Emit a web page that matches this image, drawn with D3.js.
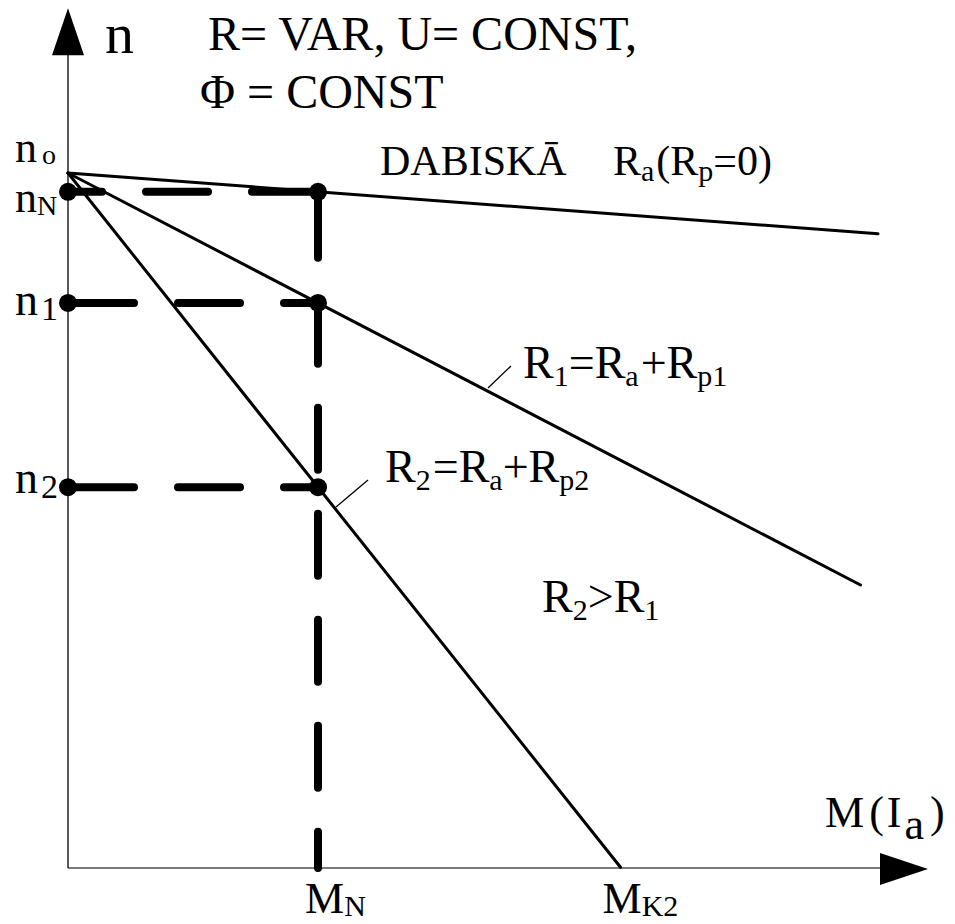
<!DOCTYPE html>
<html>
<head>
<meta charset="utf-8">
<script src="https://cdn.jsdelivr.net/npm/d3@7"></script>
<style>
  body { margin: 0; background: #fff; }
  svg text { font-family: "Liberation Serif", "Times New Roman", Times, "Noto Serif", "DejaVu Serif", FreeSerif, "Nimbus Roman", serif; }
</style>
</head>
<body>
<svg id="chart" width="955" height="924"></svg>
<script>
// Speed-torque characteristics of a DC motor with armature resistance control.
// Torque in units of the rated torque M_N, speed in units of the ideal no-load speed n0.
const characteristics = ["natural", "R1", "R2"];
const speedAtRated   = [0.973, 0.813, 0.548];   // n / n0 at M = M_N
const torqueEnd      = [3.24, 3.17, 2.21];      // where each characteristic is cut off
const idealSpeed     = 1.0;                     // n0
const ratedTorque    = 1.0;                     // M_N
const stallTorqueR2  = 2.21;                    // M_K2 (R2 line reaches n = 0)
const torqueMax      = 3.44;                    // end of the M axis
const speedMax       = 1.237;                   // end of the n axis

const svg = d3.select("#chart");

const x = d3.scaleLinear().domain([0, torqueMax]).range([68, 928]);
const y = d3.scaleLinear().domain([0, idealSpeed]).range([868, 173]);

// ---- axes ----
svg.append("line")
  .attr("x1", x(0)).attr("y1", y(0)).attr("x2", x(torqueMax) - 40).attr("y2", y(0))
  .attr("stroke", "#7a7a7a").attr("stroke-width", 2);
svg.append("path")
  .attr("d", `M${x(torqueMax)},${y(0) + 1} L${x(torqueMax) - 48},${y(0) - 15} L${x(torqueMax) - 48},${y(0) + 17} Z`)
  .attr("fill", "#000");

svg.append("line")
  .attr("x1", x(0)).attr("y1", y(0)).attr("x2", x(0)).attr("y2", y(speedMax) + 40)
  .attr("stroke", "#000").attr("stroke-width", 1.3);
svg.append("path")
  .attr("d", `M${x(0)},${y(speedMax)} L${x(0) - 16},${y(speedMax) + 47} L${x(0) + 16},${y(speedMax) + 47} Z`)
  .attr("fill", "#000");

// ---- characteristics: n = n0 - k * M ----
const lines = characteristics.map((name, i) => {
  const k = (idealSpeed - speedAtRated[i]) / ratedTorque;
  return { name, k, end: torqueEnd[i], nRated: speedAtRated[i] };
});

svg.selectAll("line.char")
  .data(lines)
  .enter().append("line")
  .attr("class", "char")
  .attr("x1", x(0)).attr("y1", y(idealSpeed))
  .attr("x2", d => x(d.end))
  .attr("y2", d => y(Math.max(0, idealSpeed - d.k * d.end)))
  .attr("stroke", "#000").attr("stroke-width", 3).attr("stroke-linecap", "round");

// ---- dashed guides to the operating points ----
const dash = "62,44";
lines.forEach((d, i) => {
  const fromAxis = i !== 0;
  const xa = fromAxis ? x(0) + 4 : x(ratedTorque) - 4;
  const xb = fromAxis ? x(ratedTorque) : x(0);
  svg.append("line")
    .attr("x1", xa).attr("y1", y(d.nRated))
    .attr("x2", xb).attr("y2", y(d.nRated))
    .attr("stroke", "#000").attr("stroke-width", 8)
    .attr("stroke-linecap", "round").attr("stroke-dasharray", dash);
});
svg.append("line")
  .attr("x1", x(ratedTorque)).attr("y1", y(speedAtRated[0]) + 4)
  .attr("x2", x(ratedTorque)).attr("y2", y(0))
  .attr("stroke", "#000").attr("stroke-width", 8)
  .attr("stroke-linecap", "round").attr("stroke-dasharray", dash);

// operating point markers
const dots = [];
speedAtRated.forEach(n => { dots.push([0, n]); dots.push([ratedTorque, n]); });
svg.selectAll("circle.pt")
  .data(dots)
  .enter().append("circle")
  .attr("class", "pt")
  .attr("cx", d => x(d[0])).attr("cy", d => y(d[1]))
  .attr("r", 9).attr("fill", "#000");

// ---- text helpers ----
function label(parts, x0, y0, size) {
  const t = svg.append("text")
    .attr("x", x0).attr("y", y0)
    .attr("font-size", size)
    .attr("fill", "#000");
  parts.forEach(p => {
    const s = t.append("tspan").text(p.t);
    if (p.size) s.attr("font-size", p.size);
    if (p.dy) s.attr("dy", p.dy);
    if (p.dx) s.attr("dx", p.dx);
  });
  return t;
}

// axis names
label([{ t: "n" }], 105, 53, 58);
label([{ t: "M" }, { t: "(", dx: 5 }, { t: "I", dx: 3 }, { t: "a", dy: 12, dx: 3 }, { t: ")", dy: -12, dx: 6 }], 825, 827, 44);

// header
label([{ t: "R= VAR, U= CONST," }], 208, 50, 48);
label([{ t: "Φ = CONST" }], 200, 108, 48);

// speed labels on the n axis
label([{ t: "n" }, { t: "o", size: 28, dy: 2, dx: 5 }], 15, 162, 44);
label([{ t: "n" }, { t: "N", size: 28, dy: 3 }], 15, 212, 44);
label([{ t: "n" }, { t: "1", size: 34, dy: 5, dx: 3 }], 15, y(speedAtRated[1]) + 12, 46);
label([{ t: "n" }, { t: "2", size: 34, dy: 5, dx: 3 }], 15, y(speedAtRated[2]) + 6, 46);

// torque labels on the M axis
label([{ t: "M" }, { t: "N", size: 30, dy: 3 }], x(ratedTorque) - 13, 913, 44);
label([{ t: "M" }, { t: "K2", size: 30, dy: 3 }], x(stallTorqueR2) - 18, 913, 44);

// curve labels
label([{ t: "DABISKĀ" }], 380, 175, 42);
label([{ t: "R" }, { t: "a", size: 30, dy: 6 }, { t: "(", dy: -6, dx: 2 },
       { t: "R" }, { t: "p", size: 30, dy: 6 }, { t: "=0)", dy: -6 }], 613, 175, 42);

label([{ t: "R" }, { t: "1", size: 30, dy: 8 }, { t: "=R", dy: -8 },
       { t: "a", size: 30, dy: 8 }, { t: "+R", dy: -8, dx: 2 }, { t: "p1", size: 30, dy: 8 }], 523, 378, 46);
label([{ t: "R" }, { t: "2", size: 30, dy: 8 }, { t: "=R", dy: -8, dx: 2 },
       { t: "a", size: 30, dy: 8 }, { t: "+R", dy: -8 }, { t: "p2", size: 30, dy: 8 }], 385, 482, 46);
label([{ t: "R" }, { t: "2", size: 30, dy: 8 }, { t: ">", dy: -8 },
       { t: "R" }, { t: "1", size: 30, dy: 8 }], 542, 612, 46);

// leader lines from labels to curves
svg.append("line").attr("x1", 488).attr("y1", 388).attr("x2", 511).attr("y2", 366)
  .attr("stroke", "#000").attr("stroke-width", 1.3);
svg.append("line").attr("x1", 336).attr("y1", 507).attr("x2", 368).attr("y2", 480)
  .attr("stroke", "#000").attr("stroke-width", 1.3);
</script>
</body>
</html>
